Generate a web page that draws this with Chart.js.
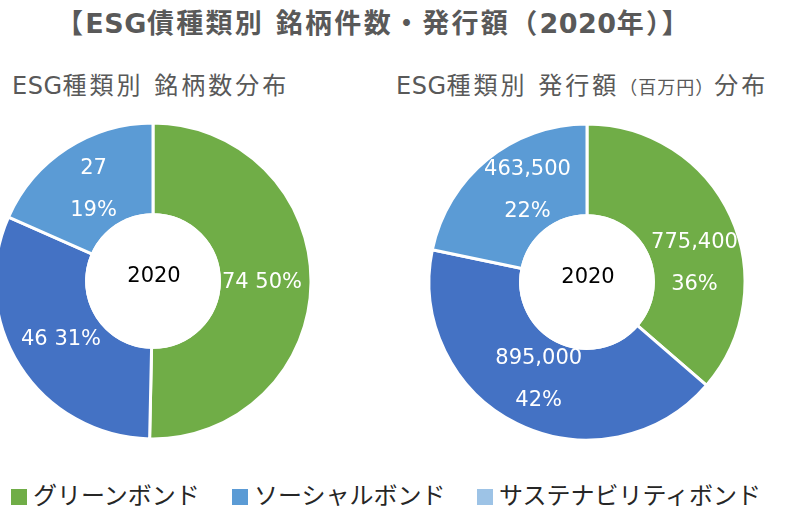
<!DOCTYPE html>
<html>
<head>
<meta charset="utf-8">
<script src="https://cdn.jsdelivr.net/npm/chart.js@4.4.1/dist/chart.umd.min.js"></script>
<style>
  body { margin: 0; width: 794px; height: 511px; overflow: hidden; background: #fff; position: relative;
         font-family: "DejaVu Sans", "Noto Sans CJK JP", sans-serif; }
  .title { position: absolute; left: 56px; top: 2px; font-size: 27px; font-weight: bold; color: #595959;
           white-space: nowrap; letter-spacing: 2.3px; }
  .sub { position: absolute; top: 66px; font-size: 24px; color: #595959; white-space: nowrap; letter-spacing: 3px; }
  .sub small { font-size: 18px; letter-spacing: 1px; }
  .lat { letter-spacing: 0.5px; }
  .box { position: absolute; }
  .legend { position: absolute; top: 479px; font-size: 24px; color: #262626; white-space: nowrap;
            font-family: "Noto Sans CJK JP", sans-serif; line-height: 30px; }
  .legend i { display: inline-block; width: 16px; height: 16px; margin-right: 6px; vertical-align: -1px; }
</style>
</head>
<body>
<div class="title">【<span class="lat">ESG</span>債種類別 銘柄件数・発行額（<span class="lat">2020</span>年）】</div>
<div class="sub" style="left:12px"><span class="lat">ESG</span>種類別 銘柄数分布</div>
<div class="sub" style="left:396px"><span class="lat">ESG</span>種類別 発行額<small>（百万円）</small>分布</div>

<div class="box" style="left:-30px; top:96px"><canvas id="countChart" width="366" height="370"></canvas></div>
<div class="box" style="left:404px; top:97px"><canvas id="amountChart" width="366" height="370"></canvas></div>

<div id="legend"></div>

<script>
// bond types, in the order the slices run clockwise from the top
const categories = ["グリーンボンド", "ソーシャルボンド", "サステナビリティボンド"]
const yearLabel = "2020"

// left: number of issues
const issueCounts = [74, 46, 27]
const issueCountPct = [50, 31, 19]

// right: issue amount (million yen)
const issueAmounts = [775400, 895000, 463500]
const issueAmountPct = [36, 42, 22]

const sliceColors = ["#70AD47", "#4472C4", "#5B9BD5"]
const legendColors = ["#70AD47", "#5B9BD5", "#9DC3E6"]

const LABEL_R = 109
const LINE_GAP = 42
const LABEL_FONT = '21px "DejaVu Sans"'

// label box must stay inside the outer edge and its own slice
// (white text over the white hole just disappears, like in the original)
function fits(p, a, w, h) {
    const cx = p.x + LABEL_R * Math.cos(a)
    const cy = p.y + LABEL_R * Math.sin(a)
    for (let u = 0; u <= 4; u++) {
        for (let v = 0; v <= 2; v++) {
            const px = cx - w / 2 + w * u / 4 - p.x
            const py = cy - h / 2 + h * v / 2 - p.y
            const r = Math.hypot(px, py)
            if (r > p.outerRadius) return false
            if (r < p.innerRadius) continue
            let t = Math.atan2(py, px)
            while (t < p.startAngle) t += 2 * Math.PI
            if (t > p.endAngle) return false
        }
    }
    return true
}

function fitAngle(p, w, h) {
    const mid = (p.startAngle + p.endAngle) / 2
    for (let k = 0; k < 90; k++) {
        for (const s of [1, -1]) {
            const a = mid + s * k * Math.PI / 180
            if (fits(p, a, w, h)) return a
        }
    }
    return mid
}

const sliceLabels = {
    id: "sliceLabels",
    afterDatasetsDraw(chart, args, opts) {
        const ctx = chart.ctx
        const meta = chart.getDatasetMeta(0)
        const values = chart.data.datasets[0].data
        ctx.save()
        ctx.font = LABEL_FONT
        ctx.textAlign = "center"
        ctx.textBaseline = "middle"
        meta.data.forEach((arc, i) => {
            const p = arc.getProps(["x", "y", "startAngle", "endAngle", "innerRadius", "outerRadius"], true)
            const val = values[i].toLocaleString("en-US")
            const lines = opts.split[i] ? [val, opts.pct[i] + "%"] : [val + " " + opts.pct[i] + "%"]
            const w = Math.max(...lines.map(s => ctx.measureText(s).width))
            const h = (lines.length - 1) * LINE_GAP + 15
            const a = fitAngle(p, w, h)
            const x = p.x + LABEL_R * Math.cos(a)
            const y = p.y + LABEL_R * Math.sin(a)
            ctx.fillStyle = "#fff"
            lines.forEach((s, k) => ctx.fillText(s, x, y + (k - (lines.length - 1) / 2) * LINE_GAP))
        })
        // hole is drawn over the labels so text reaching into it vanishes
        const c = meta.data[0]
        ctx.beginPath()
        ctx.arc(c.x, c.y, c.innerRadius + 1.5, 0, 2 * Math.PI)
        ctx.fillStyle = "#fff"
        ctx.fill()
        ctx.fillStyle = "#000"
        ctx.fillText(yearLabel, c.x + 1, c.y - 4)
        ctx.restore()
    }
}

function makeDonut(id, values, pct, split) {
    new Chart(document.getElementById(id), {
        type: "doughnut",
        data: {
            labels: categories,
            datasets: [{
                data: values,
                backgroundColor: sliceColors,
                borderColor: "#fff",
                borderWidth: 3
            }]
        },
        options: {
            responsive: false,
            animation: false,
            radius: 158,
            cutout: "42%",
            layout: { padding: 0 },
            plugins: {
                legend: { display: false },
                tooltip: { enabled: false },
                sliceLabels: { pct: pct, split: split }
            }
        },
        plugins: [sliceLabels]
    })
}

makeDonut("countChart", issueCounts, issueCountPct, [false, false, true])
makeDonut("amountChart", issueAmounts, issueAmountPct, [true, true, true])

// shared legend below both charts
const legendLeft = [11, 232, 477]
const legendBox = document.getElementById("legend")
categories.forEach((name, i) => {
    const d = document.createElement("div")
    d.className = "legend"
    d.style.left = legendLeft[i] + "px"
    d.innerHTML = '<i style="background:' + legendColors[i] + '"></i>' + name
    legendBox.appendChild(d)
})
</script>
</body>
</html>
